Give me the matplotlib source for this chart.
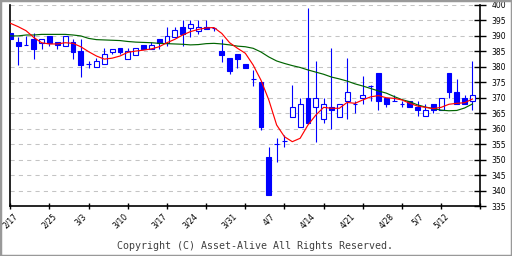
import matplotlib
matplotlib.use("Agg")
import matplotlib.pyplot as plt
from matplotlib.patches import Rectangle
import numpy as np

# daily candles, 2/17 .. 5/16 (60 trading days)
opens = [390.8, 388.0, 387.1, 388.9, 387.8, 390.0, 388.0, 386.8, 388.0, 385.1,
         380.9, 379.9, 380.9, 384.9, 386.1, 382.6, 383.9, 387.1, 385.9, 389.0,
         387.8, 389.7, 392.9, 392.7, 391.7, 392.9, 392.7, 385.1, 382.9, 384.2,
         380.9, 376.0, 375.1, 350.8, 355.0, 356.0, 363.9, 360.6, 369.8, 366.9,
         363.0, 366.9, 363.9, 368.9, 367.9, 369.8, 373.7, 377.9, 369.8, 368.9,
         367.9, 368.9, 366.9, 364.0, 367.9, 365.9, 377.9, 371.8, 369.8, 368.9]
highs = [390.8, 389.8, 389.9, 391.0, 388.9, 390.0, 388.0, 390.0, 388.9, 388.9,
         381.9, 382.9, 386.1, 385.9, 386.1, 386.1, 386.1, 387.1, 388.0, 389.0,
         392.9, 392.9, 395.1, 395.1, 395.1, 395.1, 392.7, 389.0, 382.9, 384.2,
         380.9, 379.0, 375.1, 354.1, 356.9, 358.0, 374.1, 369.8, 398.9, 381.9,
         369.8, 386.0, 367.9, 382.8, 368.9, 377.0, 374.0, 377.9, 369.8, 370.8,
         368.9, 368.9, 368.9, 367.9, 367.9, 369.8, 377.9, 376.0, 370.8, 381.9]
lows = [388.9, 380.6, 387.0, 382.5, 385.9, 386.8, 385.9, 386.8, 382.5, 376.8,
        379.6, 379.9, 380.9, 384.2, 384.2, 382.6, 383.9, 385.9, 385.9, 385.9,
        386.8, 389.7, 386.8, 389.7, 390.7, 392.3, 391.7, 381.7, 377.8, 379.6,
        379.7, 373.8, 359.6, 338.7, 349.3, 354.1, 363.9, 360.6, 361.7, 355.8,
        361.7, 359.8, 363.9, 363.0, 365.0, 368.0, 368.9, 366.0, 366.9, 368.9,
        366.9, 366.9, 364.0, 364.0, 365.0, 365.9, 369.8, 367.9, 367.9, 366.0]
closes = [388.9, 386.8, 387.1, 385.9, 388.9, 387.8, 387.1, 390.0, 384.9, 380.7,
          380.9, 381.9, 384.2, 385.9, 384.9, 385.1, 386.1, 385.9, 387.1, 387.8,
          390.0, 391.9, 390.7, 393.9, 392.9, 392.3, 392.7, 383.9, 378.7, 382.5,
          379.7, 376.0, 360.6, 338.7, 355.0, 356.0, 366.9, 367.9, 361.7, 369.8,
          367.9, 365.9, 367.9, 371.8, 367.9, 370.8, 373.7, 368.9, 367.9, 368.9,
          367.9, 366.9, 365.9, 365.9, 365.9, 369.8, 371.8, 367.9, 367.9, 370.8]

# short and long moving averages
ma_short = [394.1, 393.0, 391.7, 389.5, 387.8, 387.4, 387.4, 387.8, 387.6, 386.5,
            384.9, 383.5, 382.5, 382.8, 383.5, 384.7, 385.1, 385.4, 385.8, 386.5,
            387.8, 388.9, 390.3, 391.4, 392.1, 392.6, 392.7, 390.8, 387.8, 386.0,
            384.4, 380.6, 375.7, 369.3, 361.2, 357.4, 355.8, 356.9, 361.2, 364.4,
            366.9, 366.6, 366.6, 368.5, 368.2, 369.3, 370.3, 370.7, 370.0, 369.8,
            369.3, 368.2, 367.3, 366.9, 366.5, 366.9, 367.9, 368.2, 368.4, 369.6]
ma_long = [390.0, 390.0, 390.3, 390.3, 390.5, 390.5, 390.5, 390.5, 390.3, 390.0,
           389.2, 388.8, 388.7, 388.6, 388.5, 388.2, 388.0, 387.9, 387.8, 387.6,
           387.5, 387.4, 387.3, 387.1, 387.2, 387.5, 387.6, 387.4, 387.1, 386.7,
           386.5, 386.0, 384.8, 383.2, 381.9, 381.1, 380.4, 379.8, 379.0, 378.3,
           377.6, 376.7, 376.1, 375.4, 374.5, 373.8, 373.0, 372.2, 371.5, 370.4,
           369.4, 368.7, 367.7, 367.0, 366.5, 366.0, 365.8, 365.9, 366.7, 368.0]

date_labels = ["2/17", "2/25", "3/3", "3/10", "3/17", "3/24", "3/31",
               "4/7", "4/14", "4/21", "4/28", "5/7", "5/12"]
date_idx = [0, 5, 9, 14, 19, 23, 28, 33, 38, 43, 48, 52, 55]

BLUE = "#0000ff"
x = np.arange(len(opens))
o = np.array(opens); c = np.array(closes)

fig = plt.figure(figsize=(5.12, 2.56), dpi=100)
ax = fig.add_axes([10.3 / 512, 50 / 256, 470 / 512, 201 / 256])

# wicks
ax.vlines(x, lows, highs, color=BLUE, linewidth=0.8, zorder=2)
# bodies: filled = down, hollow = up
up = c >= o
bw = 0.62
ax.bar(x[up], (c - o)[up], bottom=o[up], width=bw, facecolor="white",
       edgecolor=BLUE, linewidth=0.8, zorder=3)
ax.bar(x[~up], (o - c)[~up], bottom=c[~up], width=bw, facecolor=BLUE,
       edgecolor=BLUE, linewidth=0.8, zorder=3)

ax.plot(x, ma_long, color="#006400", linewidth=0.85, zorder=4)
ax.plot(x, ma_short, color="#ff0000", linewidth=0.85, zorder=5)

ax.set_xlim(0, 60)
ax.set_ylim(335, 400)

ax.yaxis.tick_right()
ax.set_yticks(np.arange(335, 401, 5))
ax.tick_params(axis="y", direction="inout", length=8, width=1, labelsize=5.5,
               pad=4, left=False)
ax.set_xticks(np.arange(0, 61, 5))
ax.set_xticklabels([])
ax.tick_params(axis="x", direction="inout", length=4.5, width=1)

# date labels sit under their own candle, not under the ticks
for i, lab in zip(date_idx, date_labels):
    ax.text(i, -0.03, lab, transform=ax.get_xaxis_transform(), rotation=45,
            ha="center", va="top", fontsize=5.5, clip_on=False)

for yv in range(340, 401, 5):
    ax.axhline(yv, color="#c4c4c4", linewidth=0.75, linestyle=(0, (4, 4)),
               zorder=0)

ax.spines["top"].set_visible(False)
for s in ("left", "right", "bottom"):
    ax.spines[s].set_linewidth(1.2)

fig.text(0.499, 0.039, "Copyright (C) Asset-Alive All Rights Reserved.",
         ha="center", va="center", fontsize=7.2, family="DejaVu Sans Mono",
         color="#404040")
fig.patches.append(Rectangle((0, 0), 1, 1, transform=fig.transFigure,
                             fill=False, edgecolor="#999999", linewidth=2.5))

fig.savefig("out.png", dpi=100)
